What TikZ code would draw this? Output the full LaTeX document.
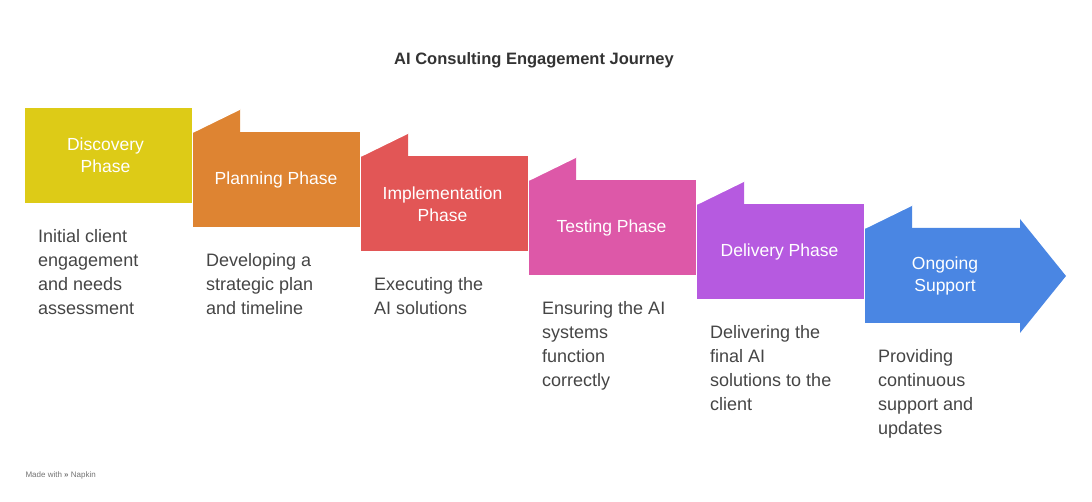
\documentclass[tikz,border=0pt]{standalone}
\usepackage{fontspec}
\setmainfont{Liberation Sans}
\definecolor{c0}{HTML}{DDCB17}
\definecolor{c1}{HTML}{DE8432}
\definecolor{c2}{HTML}{E25656}
\definecolor{c3}{HTML}{DD58A8}
\definecolor{c4}{HTML}{B65AE0}
\definecolor{c5}{HTML}{4A86E3}
\definecolor{txt}{HTML}{454545}
\begin{document}
\begin{tikzpicture}[x=1pt,y=-1pt,
  lab/.style={text=white,font=\fontsize{17.5}{22}\selectfont,align=center},
  desc/.style={text=txt,font=\fontsize{18}{24}\selectfont,align=left,anchor=north west,inner sep=0}]
\useasboundingbox (0,0) rectangle (1092,502);
\node[font=\bfseries\fontsize{16.5}{20}\selectfont,text=black!80] (title) at (534,60) {AI Consulting Engagement Journey};
\foreach \i/\c in {0/c0,1/c1,2/c2,3/c3,4/c4}{
  \pgfmathsetmacro{\L}{25+168*\i}
  \pgfmathsetmacro{\T}{108+24*\i}
  \fill[\c] (\L,\T) rectangle ++(167,95);
  \ifnum\i>0
    \fill[\c] (\L,\T) -- ++(47,-23) -- ++(0,23) -- cycle;
    \draw[white,line width=1.5pt] (\L,\T) -- ++(47,-23);
  \fi
}
% last arrow
\fill[c5] (865,228) -- (1020,228) -- (1020,219) -- (1066,276) -- (1020,333) -- (1020,323) -- (865,323) -- cycle;
\fill[c5] (865,228) -- (912,205) -- (912,228) -- cycle;
\draw[white,line width=1.5pt] (865,228) -- (912,205);
\node[lab] (p0) at (105.5,155.5) {Discovery\\Phase};
\node[lab] (p1) at (276,180) {Planning Phase};
\node[lab] (p2) at (442.5,204) {Implementation\\Phase};
\node[lab] (p3) at (611.5,228) {Testing Phase};
\node[lab] (p4) at (779.5,252) {Delivery Phase};
\node[lab] (p5) at (945,276) {Ongoing\\Support};
\node[desc] (d0) at (38,229) {Initial client\\engagement\\and needs\\assessment};
\node[desc] (d1) at (206,253) {Developing a\\strategic plan\\and timeline};
\node[desc] (d2) at (374,277) {Executing the\\AI solutions};
\node[desc] (d3) at (542,301) {Ensuring the AI\\systems\\function\\correctly};
\node[desc] (d4) at (710,325) {Delivering the\\final AI\\solutions to the\\client};
\node[desc] (d5) at (878,349) {Providing\\continuous\\support and\\updates};
\node[font=\fontsize{8}{10}\selectfont,text=black!55,anchor=west] (mw) at (22,475) {Made with \textbf{\guillemotright} Napkin};
\end{tikzpicture}
\end{document}
